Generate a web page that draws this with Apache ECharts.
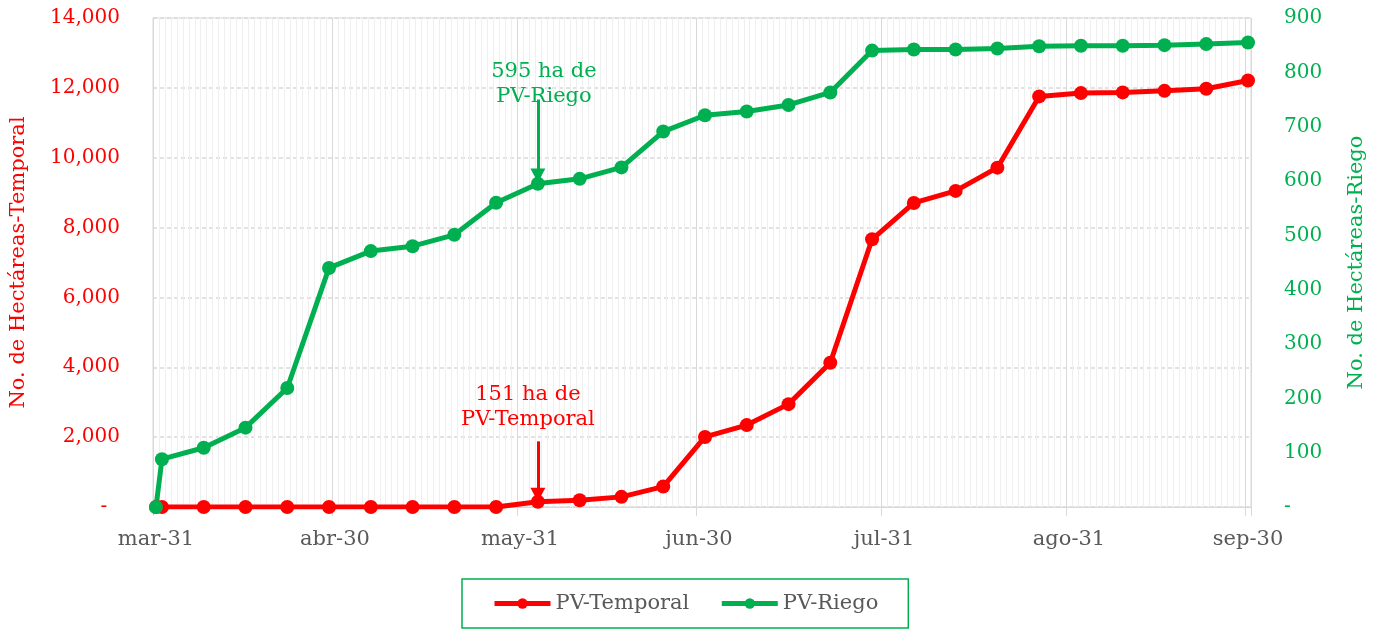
<!DOCTYPE html>
<html>
<head>
<meta charset="utf-8">
<script src="https://cdn.jsdelivr.net/npm/echarts@6/dist/echarts.min.js"></script>
<style>
  html, body { margin: 0; padding: 0; background: #fff; }
  #main { width: 1378px; height: 631px; }
</style>
</head>
<body>
<div id="main"></div>
<script>
// fechas de cada corte semanal
var pointDates = ['2023-03-31', '2023-04-01', '2023-04-08', '2023-04-15', '2023-04-22', '2023-04-29',
  '2023-05-06', '2023-05-13', '2023-05-20', '2023-05-27', '2023-06-03', '2023-06-10', '2023-06-17',
  '2023-06-24', '2023-07-01', '2023-07-08', '2023-07-15', '2023-07-22', '2023-07-29', '2023-08-05',
  '2023-08-12', '2023-08-19', '2023-08-26', '2023-09-02', '2023-09-09', '2023-09-16', '2023-09-23',
  '2023-09-30'];

var temporal = [0, 0, 0, 0, 0, 0, 0, 0, 0, 0, 151, 195, 290, 585, 2005, 2345, 2945, 4130,
  7665, 8705, 9050, 9715, 11755, 11850, 11870, 11915, 11975, 12210];

var riego = [0, 88, 109, 146, 219, 440, 471, 480, 501, 560, 595, 604, 625, 691, 721, 728,
  740, 763, 840, 842, 842, 844, 848, 849, 849, 850, 852, 855];

// etiquetas del eje x (fin de mes)
var monthTicks = ['2023-03-31', '2023-04-30', '2023-05-31', '2023-06-30', '2023-07-31', '2023-08-31', '2023-09-30'];
var monthLabels = ['mar-31', 'abr-30', 'may-31', 'jun-30', 'jul-31', 'ago-31', 'sep-30'];

var leftTicks = { min: 0, max: 14000, step: 2000 };
var rightTicks = { min: 0, max: 900, step: 100 };

// un día por categoría, de mar-31 a sep-30
var days = [];
var d = new Date(Date.UTC(2023, 2, 31));
var end = Date.UTC(2023, 8, 30);
while (d.getTime() <= end) {
  days.push(d.toISOString().slice(0, 10));
  d = new Date(d.getTime() + 86400000);
}

function isMonthTick(idx, val) {
  return monthTicks.indexOf(val) >= 0;
}

var font = 'DejaVu Serif';
var red = '#ff0000';
var green = '#00b050';
var gray = '#595959';

var chart = echarts.init(document.getElementById('main'));

var option = {
  animation: false,
  textStyle: { fontFamily: font },
  grid: {
    left: 153, right: 127, top: 18, bottom: 124,
    show: true, borderColor: '#d9d9d9', borderWidth: 1
  },
  legend: {
    left: 462,
    top: 579,
    padding: [14, 30],
    borderColor: green,
    borderWidth: 1.5,
    itemWidth: 56,
    itemHeight: 13,
    itemGap: 30,
    lineStyle: { width: 5 },
    textStyle: { color: gray, fontSize: 21, fontFamily: font },
    data: ['PV-Temporal', 'PV-Riego']
  },
  xAxis: [
    {
      type: 'category',
      data: days,
      boundaryGap: true,
      axisLine: { lineStyle: { color: '#d9d9d9' } },
      axisTick: { show: true, interval: isMonthTick, length: 9, lineStyle: { color: '#d9d9d9' } },
      axisLabel: {
        interval: isMonthTick,
        margin: 22,
        color: gray,
        fontSize: 21,
        fontFamily: font,
        formatter: function (val) {
          var i = monthTicks.indexOf(val);
          return i >= 0 ? monthLabels[i] : '';
        }
      },
      splitLine: { show: true, interval: 0, lineStyle: { color: '#efefef', width: 1 } }
    },
    {
      type: 'category',
      data: days,
      boundaryGap: true,
      position: 'bottom',
      axisLine: { show: false },
      axisTick: { show: false },
      axisLabel: { show: false },
      splitLine: { show: true, interval: isMonthTick, lineStyle: { color: '#d9d9d9', width: 1 } }
    }
  ],
  yAxis: [
    {
      type: 'value',
      min: leftTicks.min,
      max: leftTicks.max,
      interval: leftTicks.step,
      position: 'left',
      name: 'No. de Hectáreas-Temporal',
      nameLocation: 'middle',
      nameGap: 124,
      nameTextStyle: { color: red, fontSize: 21, fontFamily: font },
      axisLine: { show: true, lineStyle: { color: '#d9d9d9' } },
      axisTick: { show: false },
      axisLabel: {
        color: red,
        fontSize: 20,
        margin: 33,
        fontFamily: font,
        formatter: function (v) { return v === 0 ? '-  ' : v.toLocaleString('en-US'); }
      },
      splitLine: { show: true, lineStyle: { color: '#d9d9d9', type: [4, 3], width: 1.5 } }
    },
    {
      type: 'value',
      min: rightTicks.min,
      max: rightTicks.max,
      interval: rightTicks.step,
      position: 'right',
      name: 'No. de Hectáreas-Riego',
      nameLocation: 'middle',
      nameGap: 95,
      nameTextStyle: { color: green, fontSize: 21, fontFamily: font },
      axisLine: { show: false },
      axisTick: { show: false },
      axisLabel: {
        color: green,
        fontSize: 20,
        margin: 33,
        fontFamily: font,
        formatter: function (v) { return v === 0 ? '-' : String(v); }
      },
      splitLine: { show: false }
    }
  ],
  series: [
    {
      name: 'PV-Temporal',
      type: 'line',
      xAxisIndex: 0,
      yAxisIndex: 0,
      data: pointDates.map(function (dt, i) { return [dt, temporal[i]]; }),
      symbol: 'circle',
      symbolSize: 14,
      showAllSymbol: true,
      itemStyle: { color: red },
      lineStyle: { color: red, width: 5 },
      markLine: {
        silent: true,
        symbol: ['none', 'triangle'],
        symbolSize: [15, 14],
        label: { show: false },
        lineStyle: { color: red, width: 3, type: 'solid' },
        data: [[{ coord: ['2023-06-03', 1880] }, { coord: ['2023-06-03', 350] }]]
      },
      markPoint: {
        silent: true,
        symbolSize: 0,
        label: {
          show: true,
          position: 'inside',
          offset: [-10, 0],
          color: red,
          fontSize: 21,
          lineHeight: 25,
          fontFamily: font,
          formatter: '151 ha de\nPV-Temporal'
        },
        data: [{ coord: ['2023-06-03', 2860] }]
      }
    },
    {
      name: 'PV-Riego',
      type: 'line',
      xAxisIndex: 0,
      yAxisIndex: 1,
      data: pointDates.map(function (dt, i) { return [dt, riego[i]]; }),
      symbol: 'circle',
      symbolSize: 14,
      showAllSymbol: true,
      itemStyle: { color: green },
      lineStyle: { color: green, width: 5 },
      markLine: {
        silent: true,
        symbol: ['none', 'triangle'],
        symbolSize: [15, 14],
        label: { show: false },
        lineStyle: { color: green, width: 3, type: 'solid' },
        data: [[{ coord: ['2023-06-03', 750] }, { coord: ['2023-06-03', 610] }]]
      },
      markPoint: {
        silent: true,
        symbolSize: 0,
        label: {
          show: true,
          position: 'inside',
          offset: [6, 0],
          color: green,
          fontSize: 21,
          lineHeight: 25,
          fontFamily: font,
          formatter: '595 ha de\nPV-Riego'
        },
        data: [{ coord: ['2023-06-03', 779] }]
      }
    }
  ]
};

option && chart.setOption(option);
</script>
</body>
</html>
